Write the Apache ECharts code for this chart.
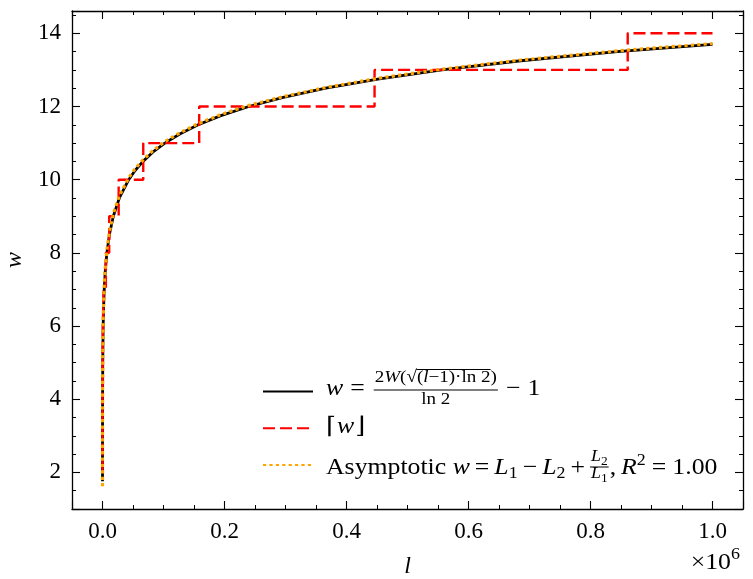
<!DOCTYPE html>
<html>
<head>
    <meta charset="utf-8">
    <title>w against l</title>
    <script src="https://cdn.jsdelivr.net/npm/echarts@6/dist/echarts.min.js"></script>
</head>
<body style="margin: 0">
    <div id="main" style="width: 753px; height: 579px"></div>
    <script>
        // points along the exact curve (l, w)
        var curveL = [10, 13.5, 45, 140, 400, 1088, 1766, 2840, 4534, 7188, 11324, 17746, 27666, 42943, 53415,
            66376, 82404, 102210, 126663, 156860, 194052, 239910, 296373, 365900, 451361, 556450, 685607, 844200, 1000000];
        var curveW = [1.76, 2, 3, 4, 5, 6, 6.5, 7, 7.5, 8, 8.5, 9, 9.5, 10, 10.25,
            10.5, 10.75, 11, 11.25, 11.5, 11.75, 12, 12.25, 12.5, 12.75, 13, 13.25, 13.5, 13.70];

        // asymptotic approximation (dotted orange)
        var asymL = [10, 13.5, 45, 140, 400, 1088, 1766, 2840, 4534, 7188, 11324, 17746, 27666, 42943, 53415,
            66376, 82404, 102210, 126663, 156860, 194052, 239910, 296373, 365900, 451361, 556450, 685607, 844200, 1000000];
        var asymW = [1.62, 2.08, 3.3, 4.25, 5.2, 6.15, 6.63, 7.11, 7.59, 8.08, 8.57, 9.07, 9.56, 10.05, 10.3,
            10.54, 10.79, 11.04, 11.28, 11.53, 11.78, 12.03, 12.27, 12.52, 12.77, 13.02, 13.27, 13.52, 13.72];

        // the rounded (step) curve: l where each level starts
        var stepL = [10, 25, 80, 238, 664, 1766, 5500, 11000, 26500, 66800, 158500, 446000, 861000, 1000000];
        var stepW = [2, 3, 4, 5, 6, 7, 8, 9, 10, 11, 12, 13, 14, 14];

        function pairs(xs, ys) {
            return xs.map(function (x, i) { return [x, ys[i]]; });
        }

        var SERIF = "'Liberation Serif', 'DejaVu Serif', serif";
        var BRACKETS = "'DejaVu Serif', 'Liberation Serif', serif";

        // text measuring for the legend math
        var ctx = document.createElement('canvas').getContext('2d');
        function fnt(size, italic, fam) { return (italic ? 'italic ' : '') + size + 'px ' + (fam || SERIF); }
        function tw(t, f) { ctx.font = f; return ctx.measureText(t).width; }

        var K = 1.12; // legend text is a little wider than plain Times
        var gfx = [];
        // put text with its baseline at y, return the x after it
        function put(t, x, base, size, italic, fam) {
            var f = fnt(size, italic, fam);
            gfx.push({
                type: 'text', x: x, y: base - 0.3 * size, z: 100, scaleX: K,
                style: { text: t, font: f, fill: '#000', textAlign: 'left', textVerticalAlign: 'middle', align: 'left', verticalAlign: 'middle' }
            });
            return x + tw(t, f) * K;
        }
        function rule(x1, x2, y, w) {
            gfx.push({ type: 'line', z: 100, shape: { x1: x1, y1: y, x2: x2, y2: y }, style: { stroke: '#000', lineWidth: w || 1 } });
        }

        var M = 23, S = 16, S1 = 17, T = 12;

        // row 1: w = 2W(sqrt((l-1) ln2)) / ln2 - 1
        var b1 = 396, x = 326;
        x = put('w', x, b1, M, true) + 7;
        x = put('=', x, b1, M) + 9;
        var fx = x + 1, nb = 383;
        var nx = put('2', fx, nb, S1);
        nx = put('W', nx, nb, S1, true);
        nx = put('(', nx, nb, S1);
        nx = put('√', nx, nb, S1);
        var vx = nx;
        nx = put('(', nx, nb, S1);
        nx = put('l', nx, nb, S1, true);
        nx = put('−1)·ln 2', nx, nb, S1);
        rule(vx - 0.5, nx, nb - 13.5, 1);
        nx = put(')', nx, nb, S1);
        rule(fx - 1, nx + 1, 390, 1);
        var dw = tw('ln 2', fnt(S1)) * K;
        put('ln 2', fx + (nx - fx - dw) / 2, 405, S1);
        x = nx + 9;
        x = put('−', x, b1, M) + 7;
        put('1', x, b1, M);

        // row 2: ceiling brackets
        var b2 = 434;
        x = put('⌈', 326, b2, M, false, BRACKETS);
        x = put('w', x + 1, b2, M, true);
        put('⌋', x + 1, b2, M, false, BRACKETS);

        // row 3: Asymptotic w = L1 - L2 + L2/L1, R^2 = 1.00
        var b3 = 475;
        x = put('Asymptotic ', 326, b3, M);
        x = put('w', x, b3, M, true) + 5;
        x = put('=', x, b3, M) + 5;
        x = put('L', x, b3, M, true);
        x = put('1', x, b3 + 4, S) + 5;
        x = put('−', x, b3, M) + 5;
        x = put('L', x, b3, M, true);
        x = put('2', x, b3 + 4, S) + 5;
        x = put('+', x, b3, M) + 5;
        var f0 = x + 1;
        var fn = put('L', f0, 462, S, true);
        fn = put('2', fn, 465, T);
        put('L', f0, 479, S, true);
        put('1', f0 + tw('L', fnt(S, true)) * K, 482, T);
        rule(f0 - 1, fn + 1, 467, 1);
        x = put(',', fn + 2, b3, M) + 5;
        x = put('R', x, b3, M, true);
        x = put('2', x, b3 - 9, S) + 6;
        x = put('=', x, b3, M) + 6;
        put('1.00', x, b3, M);

        // x offset text
        var ox = 731 - tw('×10', fnt(M)) * K;
        put('×10', ox, 570, M);
        put('6', 731, 560, S);

        var tickStyle = { show: true, inside: true, length: 8, lineStyle: { color: '#000', width: 1.1 } };
        var minorStyle = { show: true, splitNumber: 4, length: 4, lineStyle: { color: '#000', width: 1 } };
        var lineStyle = { show: true, onZero: false, lineStyle: { color: '#000', width: 1.3 } };

        var chart = echarts.init(document.getElementById('main'));
        chart.setOption({
            animation: false,
            backgroundColor: '#fff',
            grid: { left: 72, right: 10, top: 11, bottom: 70, containLabel: false, outerBoundsMode: 'none' },
            xAxis: [{
                type: 'value', min: -50000, max: 1050000, splitNumber: 5, position: 'bottom',
                axisLine: lineStyle, axisTick: tickStyle, minorTick: minorStyle,
                splitLine: { show: false },
                axisLabel: {
                    margin: 11, color: '#000', fontFamily: SERIF, fontSize: M,
                    formatter: function (v) { return Math.abs(v % 200000) < 1 ? (v / 1e6).toFixed(1) : ''; }
                },
                name: 'l', nameLocation: 'middle', nameGap: 46,
                nameTextStyle: { fontFamily: SERIF, fontStyle: 'italic', fontSize: 24, color: '#000' }
            }, {
                type: 'value', min: -50000, max: 1050000, splitNumber: 5, position: 'top',
                axisLine: lineStyle, axisTick: tickStyle, minorTick: minorStyle,
                splitLine: { show: false }, axisLabel: { show: false }
            }],
            yAxis: [{
                type: 'value', min: 1.0, max: 14.61, splitNumber: 7, position: 'left',
                axisLine: lineStyle, axisTick: tickStyle, minorTick: minorStyle,
                splitLine: { show: false },
                axisLabel: {
                    margin: 11, color: '#000', fontFamily: SERIF, fontSize: M,
                    formatter: function (v) { return Math.abs(v % 2) < 1e-6 ? String(v) : ''; }
                },
                name: 'w', nameLocation: 'middle', nameGap: 45, nameRotate: 90,
                nameTextStyle: { fontFamily: SERIF, fontStyle: 'italic', fontSize: 24, color: '#000' }
            }, {
                type: 'value', min: 1.0, max: 14.61, splitNumber: 7, position: 'right',
                axisLine: lineStyle, axisTick: tickStyle, minorTick: minorStyle,
                splitLine: { show: false }, axisLabel: { show: false }
            }],
            legend: {
                orient: 'vertical', left: 257, top: 381, itemWidth: 50, itemHeight: 14, itemGap: 25.5,
                selectedMode: false, data: ['exact', 'ceil', 'asym'],
                itemStyle: { opacity: 0 },
                formatter: function () { return ' '; },
                textStyle: { fontSize: 10 }
            },
            graphic: gfx,
            series: [{
                name: 'exact', type: 'line', symbol: 'none', data: pairs(curveL, curveW), z: 2,
                lineStyle: { color: '#000', width: 2.8 }, itemStyle: { color: '#000' }
            }, {
                name: 'ceil', type: 'line', symbol: 'none', step: 'end', data: pairs(stepL, stepW), z: 3,
                lineStyle: { color: '#ff0000', width: 2.4, type: [12, 5] }, itemStyle: { color: '#ff0000' }
            }, {
                name: 'asym', type: 'line', symbol: 'none', data: pairs(asymL, asymW), z: 4,
                lineStyle: { color: '#ffa500', width: 3.2, type: [3.2, 3.2] }, itemStyle: { color: '#ffa500' }
            }]
        });
    </script>
</body>
</html>
